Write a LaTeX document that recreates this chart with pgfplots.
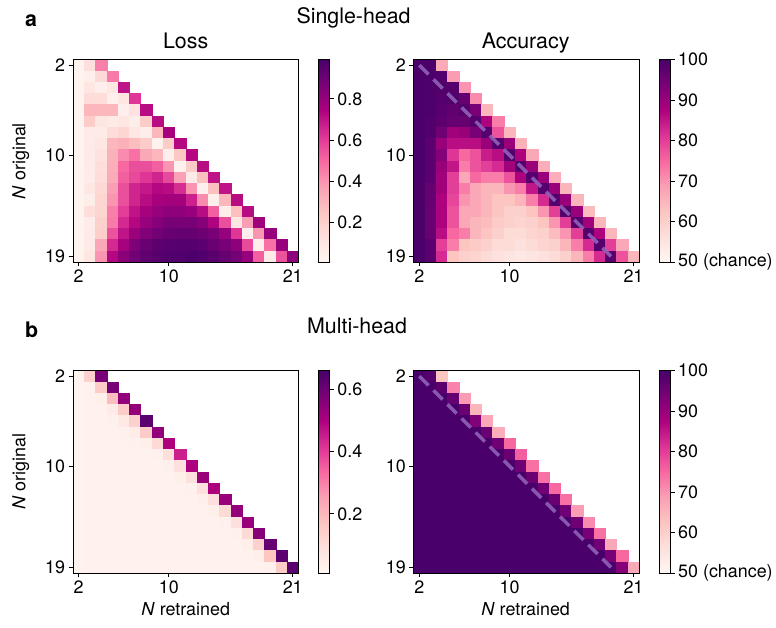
\documentclass[border=0pt]{standalone}
\usepackage{fontspec}
\setmainfont{TeX Gyre Heros}
\usepackage{pgfplots}
\usepackage{pgfplotstable}
\pgfplotsset{compat=1.18}

% RdPu colormap
\pgfplotsset{colormap={rdpu}{rgb255=(255,247,243) rgb255=(253,224,221) rgb255=(252,197,192)
  rgb255=(250,159,181) rgb255=(247,104,161) rgb255=(221,52,151) rgb255=(174,1,126)
  rgb255=(122,1,119) rgb255=(73,0,106)}}
\definecolor{dashc}{RGB}{148,103,189}

\newcommand\tk{\fontsize{18}{20}\selectfont}
\newcommand\ttl{\fontsize{21.5}{24}\selectfont}

% x = N retrained, y = N original, v = value
\pgfplotstableread[row sep=\\]{
x y v\\
2 2 0.03\\ 3 2 0.13\\ 4 2 0.45\\
2 3 0.03\\ 3 3 0.05\\ 4 3 0.16\\ 5 3 0.46\\
2 4 0.03\\ 3 4 0.10\\ 4 4 0.05\\ 5 4 0.10\\ 6 4 0.70\\
2 5 0.03\\ 3 5 0.15\\ 4 5 0.15\\ 5 5 0.05\\ 6 5 0.10\\ 7 5 0.62\\
2 6 0.03\\ 3 6 0.30\\ 4 6 0.30\\ 5 6 0.30\\ 6 6 0.05\\ 7 6 0.12\\ 8 6 0.72\\
2 7 0.03\\ 3 7 0.22\\ 4 7 0.10\\ 5 7 0.08\\ 6 7 0.10\\ 7 7 0.06\\ 8 7 0.22\\ 9 7 0.72\\
2 8 0.03\\ 3 8 0.08\\ 4 8 0.08\\ 5 8 0.15\\ 6 8 0.18\\ 7 8 0.10\\ 8 8 0.06\\ 9 8 0.30\\ 10 8 0.76\\
2 9 0.03\\ 3 9 0.08\\ 4 9 0.10\\ 5 9 0.30\\ 6 9 0.32\\ 7 9 0.28\\ 8 9 0.22\\ 9 9 0.04\\ 10 9 0.22\\ 11 9 0.73\\
2 10 0.03\\ 3 10 0.08\\ 4 10 0.12\\ 5 10 0.32\\ 6 10 0.42\\ 7 10 0.48\\ 8 10 0.35\\ 9 10 0.30\\ 10 10 0.05\\ 11 10 0.24\\ 12 10 0.73\\
2 11 0.03\\ 3 11 0.08\\ 4 11 0.14\\ 5 11 0.33\\ 6 11 0.50\\ 7 11 0.56\\ 8 11 0.56\\ 9 11 0.52\\ 10 11 0.40\\ 11 11 0.04\\ 12 11 0.22\\ 13 11 0.72\\
2 12 0.03\\ 3 12 0.07\\ 4 12 0.15\\ 5 12 0.34\\ 6 12 0.52\\ 7 12 0.57\\ 8 12 0.62\\ 9 12 0.66\\ 10 12 0.57\\ 11 12 0.37\\ 12 12 0.08\\ 13 12 0.27\\ 14 12 0.70\\
2 13 0.03\\ 3 13 0.10\\ 4 13 0.17\\ 5 13 0.38\\ 6 13 0.56\\ 7 13 0.66\\ 8 13 0.69\\ 9 13 0.73\\ 10 13 0.72\\ 11 13 0.64\\ 12 13 0.40\\ 13 13 0.05\\ 14 13 0.27\\ 15 13 0.70\\
2 14 0.03\\ 3 14 0.06\\ 4 14 0.18\\ 5 14 0.40\\ 6 14 0.56\\ 7 14 0.66\\ 8 14 0.72\\ 9 14 0.76\\ 10 14 0.77\\ 11 14 0.77\\ 12 14 0.67\\ 13 14 0.42\\ 14 14 0.05\\ 15 14 0.30\\ 16 14 0.72\\
2 15 0.03\\ 3 15 0.14\\ 4 15 0.18\\ 5 15 0.45\\ 6 15 0.60\\ 7 15 0.70\\ 8 15 0.76\\ 9 15 0.80\\ 10 15 0.82\\ 11 15 0.82\\ 12 15 0.80\\ 13 15 0.72\\ 14 15 0.52\\ 15 15 0.06\\ 16 15 0.27\\ 17 15 0.72\\
2 16 0.03\\ 3 16 0.07\\ 4 16 0.20\\ 5 16 0.46\\ 6 16 0.65\\ 7 16 0.73\\ 8 16 0.80\\ 9 16 0.84\\ 10 16 0.87\\ 11 16 0.87\\ 12 16 0.87\\ 13 16 0.84\\ 14 16 0.74\\ 15 16 0.56\\ 16 16 0.10\\ 17 16 0.38\\ 18 16 0.78\\
2 17 0.03\\ 3 17 0.08\\ 4 17 0.21\\ 5 17 0.55\\ 6 17 0.70\\ 7 17 0.79\\ 8 17 0.85\\ 9 17 0.89\\ 10 17 0.91\\ 11 17 0.92\\ 12 17 0.92\\ 13 17 0.90\\ 14 17 0.87\\ 15 17 0.80\\ 16 17 0.62\\ 17 17 0.05\\ 18 17 0.40\\ 19 17 0.80\\
2 18 0.03\\ 3 18 0.08\\ 4 18 0.35\\ 5 18 0.65\\ 6 18 0.76\\ 7 18 0.86\\ 8 18 0.91\\ 9 18 0.94\\ 10 18 0.95\\ 11 18 0.96\\ 12 18 0.96\\ 13 18 0.94\\ 14 18 0.91\\ 15 18 0.87\\ 16 18 0.82\\ 17 18 0.57\\ 18 18 0.05\\ 19 18 0.48\\ 20 18 0.80\\
2 19 0.03\\ 3 19 0.10\\ 4 19 0.40\\ 5 19 0.73\\ 6 19 0.83\\ 7 19 0.89\\ 8 19 0.93\\ 9 19 0.95\\ 10 19 0.97\\ 11 19 0.97\\ 12 19 0.98\\ 13 19 0.97\\ 14 19 0.95\\ 15 19 0.92\\ 16 19 0.88\\ 17 19 0.80\\ 18 19 0.52\\ 19 19 0.08\\ 20 19 0.55\\ 21 19 0.82\\
}\losssingle

\pgfplotstableread[row sep=\\]{
x y v\\
2 2 99.8\\ 3 2 99.6\\ 4 2 67\\
2 3 99.8\\ 3 3 99.5\\ 4 3 99\\ 5 3 69\\
2 4 99.8\\ 3 4 99.4\\ 4 4 99\\ 5 4 98.5\\ 6 4 70\\
2 5 99.8\\ 3 5 99.4\\ 4 5 98.5\\ 5 5 99\\ 6 5 96.5\\ 7 5 71\\
2 6 99.8\\ 3 6 99.4\\ 4 6 98\\ 5 6 97\\ 6 6 98.5\\ 7 6 94\\ 8 6 65\\
2 7 99.8\\ 3 7 99\\ 4 7 97.5\\ 5 7 96.5\\ 6 7 96.5\\ 7 7 98.5\\ 8 7 87.5\\ 9 7 72.5\\
2 8 99.8\\ 3 8 99\\ 4 8 95\\ 5 8 89\\ 6 8 90\\ 7 8 94\\ 8 8 98.5\\ 9 8 77.5\\ 10 8 65\\
2 9 99.8\\ 3 9 97.5\\ 4 9 90\\ 5 9 86\\ 6 9 86\\ 7 9 86\\ 8 9 90\\ 9 9 98.5\\ 10 9 90\\ 11 9 66\\
2 10 99.8\\ 3 10 97.5\\ 4 10 92.5\\ 5 10 81\\ 6 10 75\\ 7 10 77.5\\ 8 10 84\\ 9 10 86\\ 10 10 98.5\\ 11 10 87.5\\ 12 10 67.5\\
2 11 99.8\\ 3 11 97.5\\ 4 11 90\\ 5 11 85\\ 6 11 72.5\\ 7 11 77.5\\ 8 11 80\\ 9 11 82.5\\ 10 11 89\\ 11 11 98.5\\ 12 11 90\\ 13 11 66.5\\
2 12 99.8\\ 3 12 97.5\\ 4 12 89\\ 5 12 80\\ 6 12 67.5\\ 7 12 75\\ 8 12 72.5\\ 9 12 72.5\\ 10 12 77.5\\ 11 12 87.5\\ 12 12 98.5\\ 13 12 90\\ 14 12 66.5\\
2 13 99.8\\ 3 13 96.5\\ 4 13 89\\ 5 13 80\\ 6 13 72.5\\ 7 13 67.5\\ 8 13 65\\ 9 13 65\\ 10 13 70\\ 11 13 72.5\\ 12 13 85\\ 13 13 98.5\\ 14 13 90\\ 15 13 65\\
2 14 99.8\\ 3 14 96.5\\ 4 14 87.5\\ 5 14 79\\ 6 14 70\\ 7 14 67.5\\ 8 14 65\\ 9 14 62.5\\ 10 14 62.5\\ 11 14 65\\ 12 14 72.5\\ 13 14 82.5\\ 14 14 98.5\\ 15 14 90\\ 16 14 65\\
2 15 99.8\\ 3 15 96\\ 4 15 87.5\\ 5 15 77.5\\ 6 15 67.5\\ 7 15 67.5\\ 8 15 65\\ 9 15 62.5\\ 10 15 60\\ 11 15 60\\ 12 15 62.5\\ 13 15 70\\ 14 15 80\\ 15 15 98.5\\ 16 15 90\\ 17 15 64\\
2 16 99.8\\ 3 16 96\\ 4 16 87.5\\ 5 16 77.5\\ 6 16 67.5\\ 7 16 65\\ 8 16 64\\ 9 16 61\\ 10 16 60\\ 11 16 59\\ 12 16 60\\ 13 16 62.5\\ 14 16 70\\ 15 16 80\\ 16 16 98.5\\ 17 16 89\\ 18 16 65\\
2 17 99.8\\ 3 17 96\\ 4 17 86\\ 5 17 75\\ 6 17 72.5\\ 7 17 65\\ 8 17 62.5\\ 9 17 60\\ 10 17 57.5\\ 11 17 57.5\\ 12 17 59\\ 13 17 60\\ 14 17 64\\ 15 17 70\\ 16 17 80\\ 17 17 98.5\\ 18 17 87.5\\ 19 17 65\\
2 18 99.8\\ 3 18 97.5\\ 4 18 80\\ 5 18 72.5\\ 6 18 62.5\\ 7 18 61\\ 8 18 60\\ 9 18 57.5\\ 10 18 57.5\\ 11 18 56\\ 12 18 57.5\\ 13 18 59\\ 14 18 60\\ 15 18 65\\ 16 18 72.5\\ 17 18 82.5\\ 18 18 98.5\\ 19 18 80\\ 20 18 67.5\\
2 19 99.8\\ 3 19 97.5\\ 4 19 82.5\\ 5 19 62.5\\ 6 19 60\\ 7 19 59\\ 8 19 57.5\\ 9 19 56\\ 10 19 55\\ 11 19 54\\ 12 19 55\\ 13 19 56\\ 14 19 57.5\\ 15 19 60\\ 16 19 65\\ 17 19 72.5\\ 18 19 82.5\\ 19 19 98.5\\ 20 19 77.5\\ 21 19 65\\
}\accsingle

\pgfplotstableread[row sep=\\]{
x y v\\
2 2 0.025\\ 3 2 0.14\\ 4 2 0.58\\
2 3 0.025\\ 3 3 0.03\\ 4 3 0.15\\ 5 3 0.58\\
2 4 0.025\\ 3 4 0.03\\ 4 4 0.04\\ 5 4 0.19\\ 6 4 0.54\\
2 5 0.025\\ 3 5 0.03\\ 4 5 0.03\\ 5 5 0.055\\ 6 5 0.15\\ 7 5 0.54\\
2 6 0.025\\ 3 6 0.03\\ 4 6 0.03\\ 5 6 0.035\\ 6 6 0.06\\ 7 6 0.14\\ 8 6 0.63\\
2 7 0.025\\ 3 7 0.03\\ 4 7 0.03\\ 5 7 0.03\\ 6 7 0.035\\ 7 7 0.05\\ 8 7 0.15\\ 9 7 0.54\\
2 8 0.025\\ 3 8 0.03\\ 4 8 0.03\\ 5 8 0.03\\ 6 8 0.03\\ 7 8 0.035\\ 8 8 0.04\\ 9 8 0.11\\ 10 8 0.50\\
2 9 0.025\\ 3 9 0.03\\ 4 9 0.03\\ 5 9 0.03\\ 6 9 0.03\\ 7 9 0.03\\ 8 9 0.03\\ 9 9 0.035\\ 10 9 0.09\\ 11 9 0.45\\
2 10 0.025\\ 3 10 0.03\\ 4 10 0.03\\ 5 10 0.03\\ 6 10 0.03\\ 7 10 0.03\\ 8 10 0.03\\ 9 10 0.03\\ 10 10 0.035\\ 11 10 0.09\\ 12 10 0.50\\
2 11 0.025\\ 3 11 0.03\\ 4 11 0.03\\ 5 11 0.03\\ 6 11 0.03\\ 7 11 0.03\\ 8 11 0.03\\ 9 11 0.03\\ 10 11 0.03\\ 11 11 0.04\\ 12 11 0.09\\ 13 11 0.53\\
2 12 0.025\\ 3 12 0.03\\ 4 12 0.03\\ 5 12 0.03\\ 6 12 0.03\\ 7 12 0.03\\ 8 12 0.03\\ 9 12 0.03\\ 10 12 0.03\\ 11 12 0.03\\ 12 12 0.035\\ 13 12 0.09\\ 14 12 0.50\\
2 13 0.025\\ 3 13 0.03\\ 4 13 0.03\\ 5 13 0.03\\ 6 13 0.03\\ 7 13 0.03\\ 8 13 0.03\\ 9 13 0.03\\ 10 13 0.03\\ 11 13 0.03\\ 12 13 0.03\\ 13 13 0.04\\ 14 13 0.09\\ 15 13 0.53\\
2 14 0.025\\ 3 14 0.03\\ 4 14 0.03\\ 5 14 0.03\\ 6 14 0.03\\ 7 14 0.03\\ 8 14 0.03\\ 9 14 0.03\\ 10 14 0.03\\ 11 14 0.03\\ 12 14 0.03\\ 13 14 0.03\\ 14 14 0.04\\ 15 14 0.11\\ 16 14 0.54\\
2 15 0.025\\ 3 15 0.03\\ 4 15 0.03\\ 5 15 0.03\\ 6 15 0.03\\ 7 15 0.03\\ 8 15 0.03\\ 9 15 0.03\\ 10 15 0.03\\ 11 15 0.03\\ 12 15 0.03\\ 13 15 0.03\\ 14 15 0.03\\ 15 15 0.035\\ 16 15 0.09\\ 17 15 0.53\\
2 16 0.025\\ 3 16 0.03\\ 4 16 0.03\\ 5 16 0.03\\ 6 16 0.03\\ 7 16 0.03\\ 8 16 0.03\\ 9 16 0.03\\ 10 16 0.03\\ 11 16 0.03\\ 12 16 0.03\\ 13 16 0.03\\ 14 16 0.03\\ 15 16 0.03\\ 16 16 0.035\\ 17 16 0.11\\ 18 16 0.56\\
2 17 0.025\\ 3 17 0.03\\ 4 17 0.03\\ 5 17 0.03\\ 6 17 0.03\\ 7 17 0.03\\ 8 17 0.03\\ 9 17 0.03\\ 10 17 0.03\\ 11 17 0.03\\ 12 17 0.03\\ 13 17 0.03\\ 14 17 0.03\\ 15 17 0.03\\ 16 17 0.03\\ 17 17 0.04\\ 18 17 0.14\\ 19 17 0.61\\
2 18 0.025\\ 3 18 0.03\\ 4 18 0.03\\ 5 18 0.03\\ 6 18 0.03\\ 7 18 0.03\\ 8 18 0.03\\ 9 18 0.03\\ 10 18 0.03\\ 11 18 0.03\\ 12 18 0.03\\ 13 18 0.03\\ 14 18 0.03\\ 15 18 0.03\\ 16 18 0.03\\ 17 18 0.03\\ 18 18 0.04\\ 19 18 0.17\\ 20 18 0.63\\
2 19 0.025\\ 3 19 0.03\\ 4 19 0.03\\ 5 19 0.03\\ 6 19 0.03\\ 7 19 0.03\\ 8 19 0.03\\ 9 19 0.03\\ 10 19 0.03\\ 11 19 0.03\\ 12 19 0.03\\ 13 19 0.03\\ 14 19 0.03\\ 15 19 0.03\\ 16 19 0.03\\ 17 19 0.03\\ 18 19 0.03\\ 19 19 0.035\\ 20 19 0.15\\ 21 19 0.63\\
}\lossmulti

\pgfplotstableread[row sep=\\]{
x y v\\
2 2 99.9\\ 3 2 98.5\\ 4 2 62.5\\
2 3 99.9\\ 3 3 99.9\\ 4 3 97.5\\ 5 3 72\\
2 4 99.9\\ 3 4 99.9\\ 4 4 99.9\\ 5 4 96.5\\ 6 4 69\\
2 5 99.9\\ 3 5 99.9\\ 4 5 99.9\\ 5 5 99.9\\ 6 5 96\\ 7 5 65\\
2 6 99.9\\ 3 6 99.9\\ 4 6 99.9\\ 5 6 99.9\\ 6 6 99.9\\ 7 6 93\\ 8 6 67.5\\
2 7 99.9\\ 3 7 99.9\\ 4 7 99.9\\ 5 7 99.9\\ 6 7 99.9\\ 7 7 99.9\\ 8 7 96\\ 9 7 66.5\\
2 8 99.9\\ 3 8 99.9\\ 4 8 99.9\\ 5 8 99.9\\ 6 8 99.9\\ 7 8 99.9\\ 8 8 99.9\\ 9 8 95\\ 10 8 75\\
2 9 99.9\\ 3 9 99.9\\ 4 9 99.9\\ 5 9 99.9\\ 6 9 99.9\\ 7 9 99.9\\ 8 9 99.9\\ 9 9 99.9\\ 10 9 96\\ 11 9 76\\
2 10 99.9\\ 3 10 99.9\\ 4 10 99.9\\ 5 10 99.9\\ 6 10 99.9\\ 7 10 99.9\\ 8 10 99.9\\ 9 10 99.9\\ 10 10 99.9\\ 11 10 95\\ 12 10 74\\
2 11 99.9\\ 3 11 99.9\\ 4 11 99.9\\ 5 11 99.9\\ 6 11 99.9\\ 7 11 99.9\\ 8 11 99.9\\ 9 11 99.9\\ 10 11 99.9\\ 11 11 99.9\\ 12 11 96\\ 13 11 74\\
2 12 99.9\\ 3 12 99.9\\ 4 12 99.9\\ 5 12 99.9\\ 6 12 99.9\\ 7 12 99.9\\ 8 12 99.9\\ 9 12 99.9\\ 10 12 99.9\\ 11 12 99.9\\ 12 12 99.9\\ 13 12 95\\ 14 12 75\\
2 13 99.9\\ 3 13 99.9\\ 4 13 99.9\\ 5 13 99.9\\ 6 13 99.9\\ 7 13 99.9\\ 8 13 99.9\\ 9 13 99.9\\ 10 13 99.9\\ 11 13 99.9\\ 12 13 99.9\\ 13 13 99.9\\ 14 13 96\\ 15 13 74\\
2 14 99.9\\ 3 14 99.9\\ 4 14 99.9\\ 5 14 99.9\\ 6 14 99.9\\ 7 14 99.9\\ 8 14 99.9\\ 9 14 99.9\\ 10 14 99.9\\ 11 14 99.9\\ 12 14 99.9\\ 13 14 99.9\\ 14 14 99.9\\ 15 14 95\\ 16 14 69\\
2 15 99.9\\ 3 15 99.9\\ 4 15 99.9\\ 5 15 99.9\\ 6 15 99.9\\ 7 15 99.9\\ 8 15 99.9\\ 9 15 99.9\\ 10 15 99.9\\ 11 15 99.9\\ 12 15 99.9\\ 13 15 99.9\\ 14 15 99.9\\ 15 15 99.9\\ 16 15 95\\ 17 15 71\\
2 16 99.9\\ 3 16 99.9\\ 4 16 99.9\\ 5 16 99.9\\ 6 16 99.9\\ 7 16 99.9\\ 8 16 99.9\\ 9 16 99.9\\ 10 16 99.9\\ 11 16 99.9\\ 12 16 99.9\\ 13 16 99.9\\ 14 16 99.9\\ 15 16 99.9\\ 16 16 99.9\\ 17 16 94\\ 18 16 74\\
2 17 99.9\\ 3 17 99.9\\ 4 17 99.9\\ 5 17 99.9\\ 6 17 99.9\\ 7 17 99.9\\ 8 17 99.9\\ 9 17 99.9\\ 10 17 99.9\\ 11 17 99.9\\ 12 17 99.9\\ 13 17 99.9\\ 14 17 99.9\\ 15 17 99.9\\ 16 17 99.9\\ 17 17 99.9\\ 18 17 95\\ 19 17 67.5\\
2 18 99.9\\ 3 18 99.9\\ 4 18 99.9\\ 5 18 99.9\\ 6 18 99.9\\ 7 18 99.9\\ 8 18 99.9\\ 9 18 99.9\\ 10 18 99.9\\ 11 18 99.9\\ 12 18 99.9\\ 13 18 99.9\\ 14 18 99.9\\ 15 18 99.9\\ 16 18 99.9\\ 17 18 99.9\\ 18 18 99.9\\ 19 18 94\\ 20 18 75\\
2 19 99.9\\ 3 19 99.9\\ 4 19 99.9\\ 5 19 99.9\\ 6 19 99.9\\ 7 19 99.9\\ 8 19 99.9\\ 9 19 99.9\\ 10 19 99.9\\ 11 19 99.9\\ 12 19 99.9\\ 13 19 99.9\\ 14 19 99.9\\ 15 19 99.9\\ 16 19 99.9\\ 17 19 99.9\\ 18 19 99.9\\ 19 19 99.9\\ 20 19 92.5\\ 21 19 67.5\\
}\accmulti

\pgfplotsset{
  hmaxis/.style={
    scale only axis, width=226.6pt, height=203.4pt,
    xmin=1.5, xmax=21.5, ymin=1.5, ymax=19.5, y dir=reverse,
    xtick={2,10,21}, ytick={2,10,19},
    xtick pos=left, ytick pos=left, tick align=outside,
    major tick length=4.5pt,
    tick style={black, line width=0.8pt},
    axis line style={line width=0.8pt},
    tick label style={font=\tk},
    /pgf/number format/assume math mode=true,
    axis on top, colormap name=rdpu,
    clip marker paths=true,
    anchor=north west,
  },
  % invisible twin axis that only carries the colour bar
  hmcbar/.style={
    hide axis, scale only axis, width=226.6pt, height=203.4pt,
    xmin=0, xmax=1, ymin=0, ymax=1, anchor=north west,
    colormap name=rdpu, colorbar,
    colorbar style={
      scale only axis, width=11pt, height=203.4pt,
      at={(parent axis.north east)}, anchor=north west, xshift=11.7pt,
      tick align=outside, major tick length=4.5pt,
      ytick pos=right, yticklabel pos=right,
      tick label style={font=\tk},
      tick style={black, line width=0.8pt},
      axis line style={line width=0.8pt},
      /pgf/number format/assume math mode=true,
    },
  },
}

\begin{document}
\begin{tikzpicture}
\path (0pt,0pt) rectangle (776pt,-631pt);

% colour bars first
\begin{axis}[hmcbar, at={(73.4pt,-60pt)},
  point meta min=0.01, point meta max=0.99,
  colorbar style={ytick={0.2,0.4,0.6,0.8}}]
\addplot[draw=none] coordinates {(0.5,0.5)};
\end{axis}
\begin{axis}[hmcbar, at={(416pt,-60pt)},
  point meta min=50, point meta max=100,
  colorbar style={ytick={50,60,70,80,90,100},
    yticklabels={50 (chance),60,70,80,90,100}}]
\addplot[draw=none] coordinates {(0.5,0.5)};
\end{axis}
\begin{axis}[hmcbar, at={(73.4pt,-372.7pt)},
  point meta min=0.01, point meta max=0.66,
  colorbar style={ytick={0.2,0.4,0.6}}]
\addplot[draw=none] coordinates {(0.5,0.5)};
\end{axis}
\begin{axis}[hmcbar, at={(416pt,-372.7pt)},
  point meta min=50, point meta max=100,
  colorbar style={ytick={50,60,70,80,90,100},
    yticklabels={50 (chance),60,70,80,90,100}}]
\addplot[draw=none] coordinates {(0.5,0.5)};
\end{axis}

% a: single-head loss
\begin{axis}[hmaxis, at={(73.4pt,-60pt)},
  point meta min=0.01, point meta max=0.99]
\addplot[scatter, only marks, mark=square*, mark size=5.67pt, point meta=explicit,
  scatter/use mapped color={draw=mapped color, fill=mapped color},
  mark options={line width=0.3pt}] table[x=x, y=y, meta=v] {\losssingle};
\end{axis}

% a: single-head accuracy
\begin{axis}[hmaxis, at={(416pt,-60pt)},
  point meta min=50, point meta max=100]
\addplot[scatter, only marks, mark=square*, mark size=5.67pt, point meta=explicit,
  scatter/use mapped color={draw=mapped color, fill=mapped color},
  mark options={line width=0.3pt}] table[x=x, y=y, meta=v] {\accsingle};
\addplot[no marks, point meta=none, line width=3.5pt, color=dashc, opacity=0.85,
  dash pattern=on 13pt off 7pt] coordinates {(2,2) (19,19)};
\end{axis}

% b: multi-head loss
\begin{axis}[hmaxis, at={(73.4pt,-372.7pt)},
  point meta min=0.01, point meta max=0.66]
\addplot[scatter, only marks, mark=square*, mark size=5.67pt, point meta=explicit,
  scatter/use mapped color={draw=mapped color, fill=mapped color},
  mark options={line width=0.3pt}] table[x=x, y=y, meta=v] {\lossmulti};
\end{axis}

% b: multi-head accuracy
\begin{axis}[hmaxis, at={(416pt,-372.7pt)},
  point meta min=50, point meta max=100]
\addplot[scatter, only marks, mark=square*, mark size=5.67pt, point meta=explicit,
  scatter/use mapped color={draw=mapped color, fill=mapped color},
  mark options={line width=0.3pt}] table[x=x, y=y, meta=v] {\accmulti};
\addplot[no marks, point meta=none, line width=3.5pt, color=dashc, opacity=0.85,
  dash pattern=on 13pt off 7pt] coordinates {(2,2) (19,19)};
\end{axis}

\begin{scope}[every node/.style={inner sep=0pt}]
\node[anchor=base west, font=\ttl\bfseries] at (25pt,-26.7pt) {a};
\node[anchor=base, font=\ttl] at (355.5pt,-23.5pt) {Single-head};
\node[anchor=base, font=\ttl] at (186.7pt,-48.3pt) {Loss};
\node[anchor=base, font=\ttl] at (528.5pt,-48.3pt) {Accuracy};
\node[anchor=base west, font=\ttl\bfseries] at (25pt,-339pt) {b};
\node[anchor=base, font=\ttl] at (359pt,-335pt) {Multi-head};
\node[rotate=90, font=\tk] at (21pt,-162pt) {\textit{N} original};
\node[rotate=90, font=\tk] at (21pt,-474.5pt) {\textit{N} original};
\node[anchor=base, font=\tk] at (186.7pt,-619pt) {\textit{N} retrained};
\node[anchor=base, font=\tk] at (528.5pt,-619pt) {\textit{N} retrained};
\end{scope}
\end{tikzpicture}
\end{document}
